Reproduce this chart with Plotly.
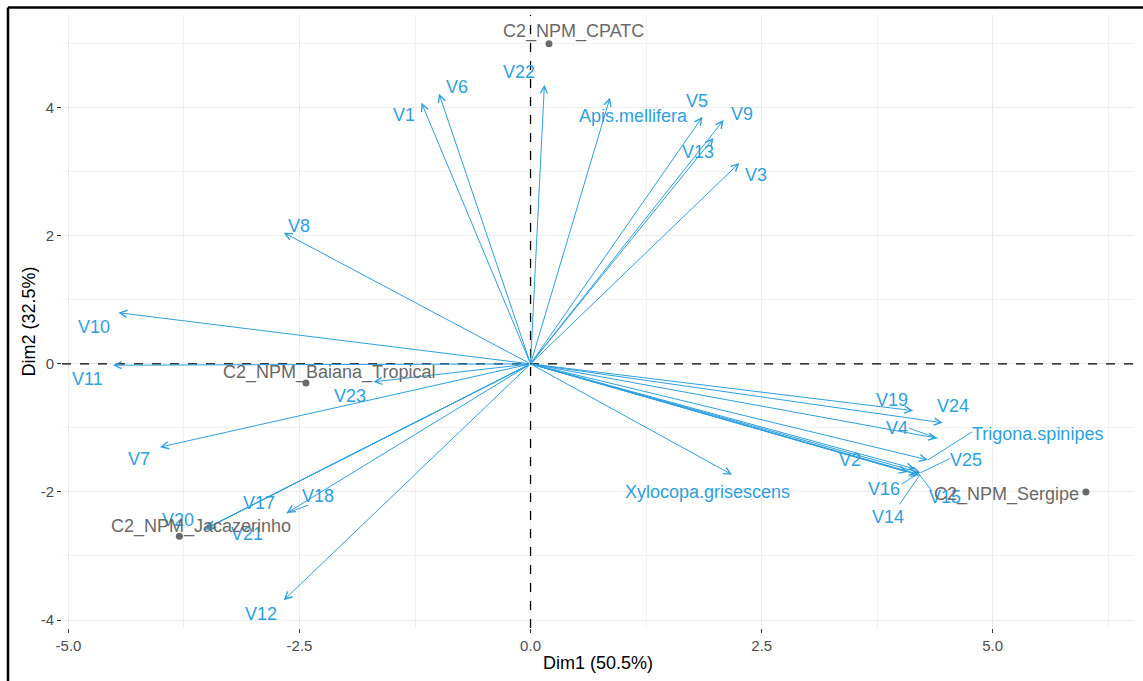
import plotly.graph_objects as go

# ---- PCA biplot data -------------------------------------------------------
# Variable loadings (arrow tips) on Dim1 / Dim2
var_names = ["V1", "V6", "V22", "Apis.mellifera", "V5", "V9", "V13", "V3",
             "V8", "V10", "V11", "V7", "V23", "V17", "V20", "V21", "V18",
             "V12", "V19", "V24", "V4", "Trigona.spinipes", "V25", "V2",
             "V16", "V14", "V15", "Xylocopa.grisescens"]
var_dim1 = [-1.18, -0.99, 0.15, 0.86, 1.86, 2.09, 1.98, 2.26,
            -2.67, -4.46, -4.52, -4.01, -1.70, -3.52, -3.54, -3.50, -2.64,
            -2.67, 4.14, 4.46, 4.40, 4.30, 4.22, 4.08,
            4.19, 4.21, 4.16, 2.18]
var_dim2 = [4.08, 4.22, 4.36, 4.16, 3.86, 3.81, 3.53, 3.14,
            2.05, 0.80, -0.02, -1.30, -0.28, -2.58, -2.59, -2.56, -2.33,
            -3.69, -0.73, -0.92, -1.16, -1.50, -1.70, -1.69,
            -1.72, -1.74, -1.64, -1.73]

# Individuals (sites)
ind_names = ["C2_NPM_CPATC", "C2_NPM_Baiana_Tropical",
             "C2_NPM_Jacazerinho", "C2_NPM_Sergipe"]
ind_dim1 = [0.20, -2.43, -3.80, 6.01]
ind_dim2 = [5.00, -0.30, -2.69, -2.00]

x_tick_vals = [-5.0, -2.5, 0.0, 2.5, 5.0]
x_tick_text = ["-5.0", "-2.5", "0.0", "2.5", "5.0"]
y_tick_vals = [-4, -2, 0, 2, 4]
y_tick_text = ["-4", "-2", "0", "2", "4"]

x_title = "Dim1 (50.5%)"
y_title = "Dim2 (32.5%)"

# ---- label placement (pixel offsets from each mark) ------------------------
var_label_shift = {
    "V1": (-17, -12), "V6": (18, 7), "V22": (-25, 13),
    "Apis.mellifera": (23, -18), "V5": (-5, 16), "V9": (18, 6),
    "V13": (-16, -14), "V3": (17, -12), "V8": (15, 7), "V10": (-24, -14),
    "V11": (-25, -14), "V7": (-21, -12), "V23": (-23, -14),
    "V17": (54, 26), "V20": (-25, 10), "V21": (40, -6), "V18": (31, 17),
    "V12": (-23, -14), "V19": (-21, 11), "V24": (10, 17), "V4": (-40, 10),
    "Trigona.spinipes": (110, 26), "V25": (45, 13), "V2": (-58, 12),
    "V16": (-34, -15), "V14": (-32, -42), "V15": (30, -28),
    "Xylocopa.grisescens": (-25, -17),
}
# repel connector segments: pixel offset of the label-side end
connector_shift = {
    "V18": (22, 8), "V4": (-28, 10), "Trigona.spinipes": (44, 28),
    "V25": (29, 14), "V16": (-16, -10), "V14": (-20, -29), "V15": (17, -22),
}
ind_label_shift = [(24, 12), (23, 11), (22, 10), (-79, -3)]

VAR_COL = "#2E9FDF"
IND_COL = "#696969"
FONT = "Liberation Sans, Arial, sans-serif"

x_range = [-5.07, 6.53]
y_range = [-4.125, 5.45]
margin = dict(l=62, r=9, t=15, b=53)
W, H = 1143, 681
px_per_x = (W - margin["l"] - margin["r"]) / (x_range[1] - x_range[0])
px_per_y = (H - margin["t"] - margin["b"]) / (y_range[1] - y_range[0])

fig = go.Figure()

# reference lines through the origin
fig.add_hline(y=0, line=dict(color="black", width=1.3, dash="dash"))
fig.add_vline(x=0, line=dict(color="black", width=1.3, dash="dash"))

# connector segments between crowded labels and their arrow tips
for name, (dx, dy) in connector_shift.items():
    i = var_names.index(name)
    x0, y0 = var_dim1[i], var_dim2[i]
    fig.add_trace(go.Scatter(
        x=[x0, x0 + dx / px_per_x], y=[y0, y0 + dy / px_per_y],
        mode="lines", line=dict(color=VAR_COL, width=1),
        hoverinfo="skip", showlegend=False))

# variable arrows
for name, vx, vy in zip(var_names, var_dim1, var_dim2):
    fig.add_annotation(
        x=vx, y=vy, ax=0, ay=0, xref="x", yref="y", axref="x", ayref="y",
        text="", showarrow=True, arrowhead=5, arrowsize=1.4, arrowwidth=1,
        arrowcolor=VAR_COL, standoff=0, startstandoff=0)

# variable labels
for name, vx, vy in zip(var_names, var_dim1, var_dim2):
    dx, dy = var_label_shift[name]
    fig.add_annotation(
        x=vx, y=vy, xref="x", yref="y", text=name, showarrow=False,
        xshift=dx, yshift=dy, xanchor="center", yanchor="middle",
        font=dict(family=FONT, size=18, color=VAR_COL))

# individuals
fig.add_trace(go.Scatter(
    x=ind_dim1, y=ind_dim2, mode="markers",
    marker=dict(color=IND_COL, size=7),
    hoverinfo="text", text=ind_names, showlegend=False))
for name, ix, iy, (dx, dy) in zip(ind_names, ind_dim1, ind_dim2, ind_label_shift):
    fig.add_annotation(
        x=ix, y=iy, xref="x", yref="y", text=name, showarrow=False,
        xshift=dx, yshift=dy, xanchor="center", yanchor="middle",
        font=dict(family=FONT, size=18, color=IND_COL))

# axis titles
fig.add_annotation(x=0.5, y=0, xref="paper", yref="paper", text=x_title,
                   showarrow=False, yshift=-35, yanchor="middle",
                   font=dict(family=FONT, size=18, color="black"))
fig.add_annotation(x=0, y=0.5, xref="paper", yref="paper", text=y_title,
                   showarrow=False, xshift=-34, xanchor="center",
                   textangle=-90,
                   font=dict(family=FONT, size=18, color="black"))

# outer frame (left and top edges)
frame_left = (8 - margin["l"]) / (W - margin["l"] - margin["r"])
frame_top = 1 + (margin["t"] - 7.5) / (H - margin["t"] - margin["b"])
fig.add_shape(type="line", xref="paper", yref="paper",
              x0=frame_left, x1=frame_left, y0=-0.2, y1=frame_top,
              line=dict(color="black", width=2.5))
fig.add_shape(type="line", xref="paper", yref="paper",
              x0=frame_left, x1=1.05, y0=frame_top, y1=frame_top,
              line=dict(color="black", width=2.5))

axis_common = dict(
    showgrid=True, gridcolor="#EBEBEB", gridwidth=1.2,
    zeroline=False, showline=False, ticks="outside", ticklen=4,
    tickwidth=1.2, tickcolor="#333333", automargin=False,
    tickfont=dict(family=FONT, size=15, color="#4D4D4D"),
    minor=dict(showgrid=True, gridcolor="#F2F2F2", gridwidth=1, ticks=""),
)
fig.update_xaxes(range=x_range, tickvals=x_tick_vals, ticktext=x_tick_text,
                 **axis_common)
fig.update_yaxes(range=y_range, tickvals=y_tick_vals, ticktext=y_tick_text,
                 **axis_common)
fig.update_xaxes(minor_tickvals=[-3.75, -1.25, 1.25, 3.75, 6.25])
fig.update_yaxes(minor_tickvals=[-3, -1, 1, 3, 5])

fig.update_layout(
    width=W, height=H, margin=margin,
    plot_bgcolor="white", paper_bgcolor="white",
    showlegend=False,
)

fig.write_html("out.html")
